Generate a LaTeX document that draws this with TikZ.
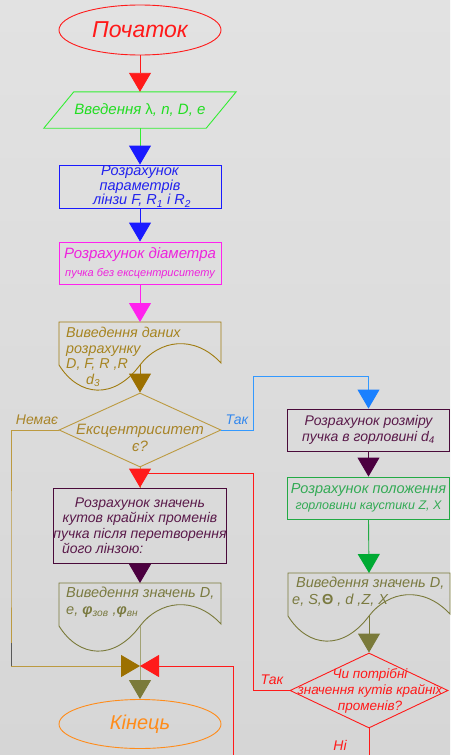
\documentclass[tikz,border=0pt]{standalone}
\usepackage{fontspec}
\setmainfont{Liberation Sans}
\usetikzlibrary{arrows.meta,shapes.geometric}
\definecolor{bgTop}{HTML}{E2E2E2}
\definecolor{bgMid}{HTML}{FAFAFA}
\definecolor{bgBot}{HTML}{D6D6D6}
\definecolor{cRed}{HTML}{FF1A1A}
\definecolor{cGreenA}{HTML}{33EE33}
\definecolor{cGreenAT}{HTML}{22DD22}
\definecolor{cBlue}{HTML}{1A1AFF}
\definecolor{cBlueT}{HTML}{2222EE}
\definecolor{cMag}{HTML}{FF22EE}
\definecolor{cMagT}{HTML}{EE22DD}
\definecolor{cBrown}{HTML}{A07C10}
\definecolor{cBrownT}{HTML}{A68420}
\definecolor{cBrownTip}{HTML}{9C7000}
\definecolor{cGold}{HTML}{BC9A40}
\definecolor{cGoldT}{HTML}{A88428}
\definecolor{cSky}{HTML}{3399FF}
\definecolor{cSkyTip}{HTML}{1A80FF}
\definecolor{cSkyT}{HTML}{3388EE}
\definecolor{cPurp}{HTML}{4A0A3A}
\definecolor{cPurpT}{HTML}{5A1A4A}
\definecolor{cPurpTip}{HTML}{4C0040}
\definecolor{cGreenB}{HTML}{22AA44}
\definecolor{cGreenBT}{HTML}{33AA55}
\definecolor{cGreenBTip}{HTML}{00AA33}
\definecolor{cOlive}{HTML}{7A7A3A}
\definecolor{cOliveT}{HTML}{7A7A40}
\definecolor{cOrange}{HTML}{FF8C1A}
\tikzset{
  txt/.style={font=\itshape\fontsize{14}{15.5}\selectfont, inner sep=0pt, align=center},
  boxnode/.style={draw, line width=0.9pt, minimum width=162pt, minimum height=#1, inner sep=0pt},
  conn/.style={line width=0.9pt},
  arrowto/.style={-{Triangle[width=22pt,length=19pt,color=#1]}},
  docshape/.pic={
    \draw[line width=0.9pt] (0,0) -- (162,0) -- (162,41)
      .. controls (135,12) and (100,18) .. (81,43)
      .. controls (55,78) and (20,75) .. (0,43) -- cycle;
    \coordinate (-t) at (81,0);
    \coordinate (-b) at (81,43);
  }
}
\begin{document}
\begin{tikzpicture}[x=1pt,y=-1pt]
\useasboundingbox (0,0) rectangle (450,755);
\shade[top color=bgTop, middle color=bgMid, bottom color=bgBot] (0,0) rectangle (450,755);

% start
\node[ellipse, draw=cRed, line width=0.9pt, minimum width=162pt, minimum height=50pt, inner sep=0pt,
  text=cRed, font=\itshape\fontsize{23}{25}\selectfont] (start) at (140,30) {Початок};

% input parallelogram
\node[txt, text=cGreenAT, minimum width=162pt, minimum height=36pt, font=\itshape\fontsize{15}{17}\selectfont] (inp) at (140,110) {Введення {\upshape λ}, n, D, e};
\draw[cGreenA, line width=0.9pt] ([xshift=-15pt]inp.south west) -- ([xshift=-15pt]inp.south east)
  -- ([xshift=15pt]inp.north east) -- ([xshift=15pt]inp.north west) -- cycle;

% blue rect
\node[boxnode=43pt, draw=cBlue, txt, text=cBlueT, font=\itshape\fontsize{14.5}{14.5}\selectfont] (calcA) at (140,186.5)
  {Розрахунок\\параметрів\\\ лінзи F, R\textsubscript{1} і R\textsubscript{2}};

% magenta rect
\node[boxnode=42pt, draw=cMag, txt, text=cMagT, font=\itshape\fontsize{15}{18}\selectfont] (calcB) at (140,263)
  {Розрахунок діаметра\\{\fontsize{11}{13}\selectfont пучка без ексцентриситету}};

% doc 1
\pic[color=cBrown] (docA) at (59,322) {docshape};
\node[txt, text=cBrownT, align=left, anchor=west, font=\itshape\fontsize{14.3}{15.8}\selectfont] (docAt) at (66,357)
  {Виведення даних\\розрахунку\\D, F, R ,R\\\hspace*{20pt}d\textsubscript{3}};

% decision 1
\node[diamond, draw=cGold, line width=0.9pt, minimum width=162pt, minimum height=74pt, inner sep=0pt] (decA) at (140,430) {};
\node[txt, text=cGoldT, font=\itshape\fontsize{15}{17}\selectfont] (decAt) at (140,438) {Ексцентриситет\\є?};
\node[txt, text=cGoldT] (lblNo) at (37,420) {Немає};
\node[txt, text=cSkyT] (lblYesA) at (237,420) {Так};

% right column
\node[boxnode=42pt, draw=cPurp, txt, text=cPurpT] (calcC) at (368.5,430) {Розрахунок розміру\\пучка в горловині d\textsubscript{4}};
\node[boxnode=42pt, draw=cGreenB, txt, text=cGreenBT, font=\itshape\fontsize{14.5}{16}\selectfont] (calcD) at (368.5,498)
  {Розрахунок положення\\{\fontsize{12.5}{14}\selectfont горловини каустики Z, X}};
\pic[color=cOlive] (docB) at (288,573) {docshape};
\node[txt, text=cOliveT, align=left, anchor=west, font=\itshape\fontsize{14.5}{16.5}\selectfont] (docBt) at (292,591.5)
  {\hspace*{4pt}Виведення значень D,\\e, S,{\upshape\bfseries Θ} , d ,Z, X};

% decision 2
\node[diamond, draw=cRed, line width=0.9pt, minimum width=158pt, minimum height=75pt, inner sep=0pt] (decB) at (369,690.5) {};
\node[txt, text=cRed, font=\itshape\fontsize{13.5}{16}\selectfont] (decBt) at (370,691) {Чи потрібні\\значення кутів крайніх\\променів?};
\node[txt, text=cRed] (lblYesB) at (272,680) {Так};
\node[txt, text=cRed] (lblNoB) at (340,745) {Ні};

% left lower
\node[boxnode=75pt, draw=cPurp, txt, text=cPurpT] (calcE) at (140,525.5)
  {Розрахунок значень\\кутов крайніх променів\\пучка після перетворення\\\makebox[156pt][l]{його лінзою:}};
\pic[color=cOlive] (docC) at (59,583) {docshape};
\node[txt, text=cOliveT, align=left, anchor=west, font=\itshape\fontsize{14.5}{17}\selectfont] (docCt) at (66,602)
  {Виведення значень D,\\e, {\bfseries φ}\textsubscript{зов} ,{\bfseries φ}\textsubscript{вн}};

% end
\node[ellipse, draw=cOrange, line width=0.9pt, minimum width=162pt, minimum height=49pt, inner sep=0pt,
  text=cOrange, font=\itshape\fontsize{20}{22}\selectfont] (stop) at (140,724) {Кінець};

% helper coordinates
\coordinate (merge) at (140,666);
\coordinate (leftc) at (11,550);
\coordinate (skyc) at (253,376);
\coordinate (redc) at (253,473);
\coordinate (redb) at (233,755);
\coordinate (nob) at (369,755);

% connectors
\draw[conn, cRed, arrowto=cRed] (start.south) -- (inp.north);
\draw[conn, cGreenA, arrowto=cBlue] (inp.south) -- (calcA.north);
\draw[conn, cBlue, arrowto=cBlue] (calcA.south) -- (calcB.north);
\draw[conn, cMag, arrowto=cMag] (calcB.south) -- (docA-t);
\draw[conn, cBrown, arrowto=cBrownTip] (docA-b) -- (decA.north);
\draw[conn, cGold] (decA.south) -- (calcE.north);
\draw[conn, cSky, arrowto=cSkyTip] (decA.east) -| (skyc) -| (calcC.north);
\draw[conn, cPurp, arrowto=cPurpTip] (calcC.south) -- (calcD.north);
\draw[conn, cGreenB, arrowto=cGreenBTip] (calcD.south) -- (docB-t);
\draw[conn, cOlive, arrowto=cOlive] (docB-b) -- (decB.north);
\draw[conn, cRed, arrowto=cRed] (decB.west) -| (redc) -| (calcE.north);
\draw[conn, cRed] (decB.south) -- (nob);
\draw[conn, cPurp, arrowto=cPurpTip] (calcE.south) -- (docC-t);
\draw[conn, cOlive!70!white, arrowto=cOlive] (docC-b) -- (stop.north);
\draw[conn, cGold, arrowto=cBrownTip] (decA.west) -| (leftc) |- (merge);
\draw[line width=0.9pt, black!65] (11,643) -- (11,666);
\draw[conn, cRed, arrowto=cRed] (redb) |- (merge);
\end{tikzpicture}
\end{document}
